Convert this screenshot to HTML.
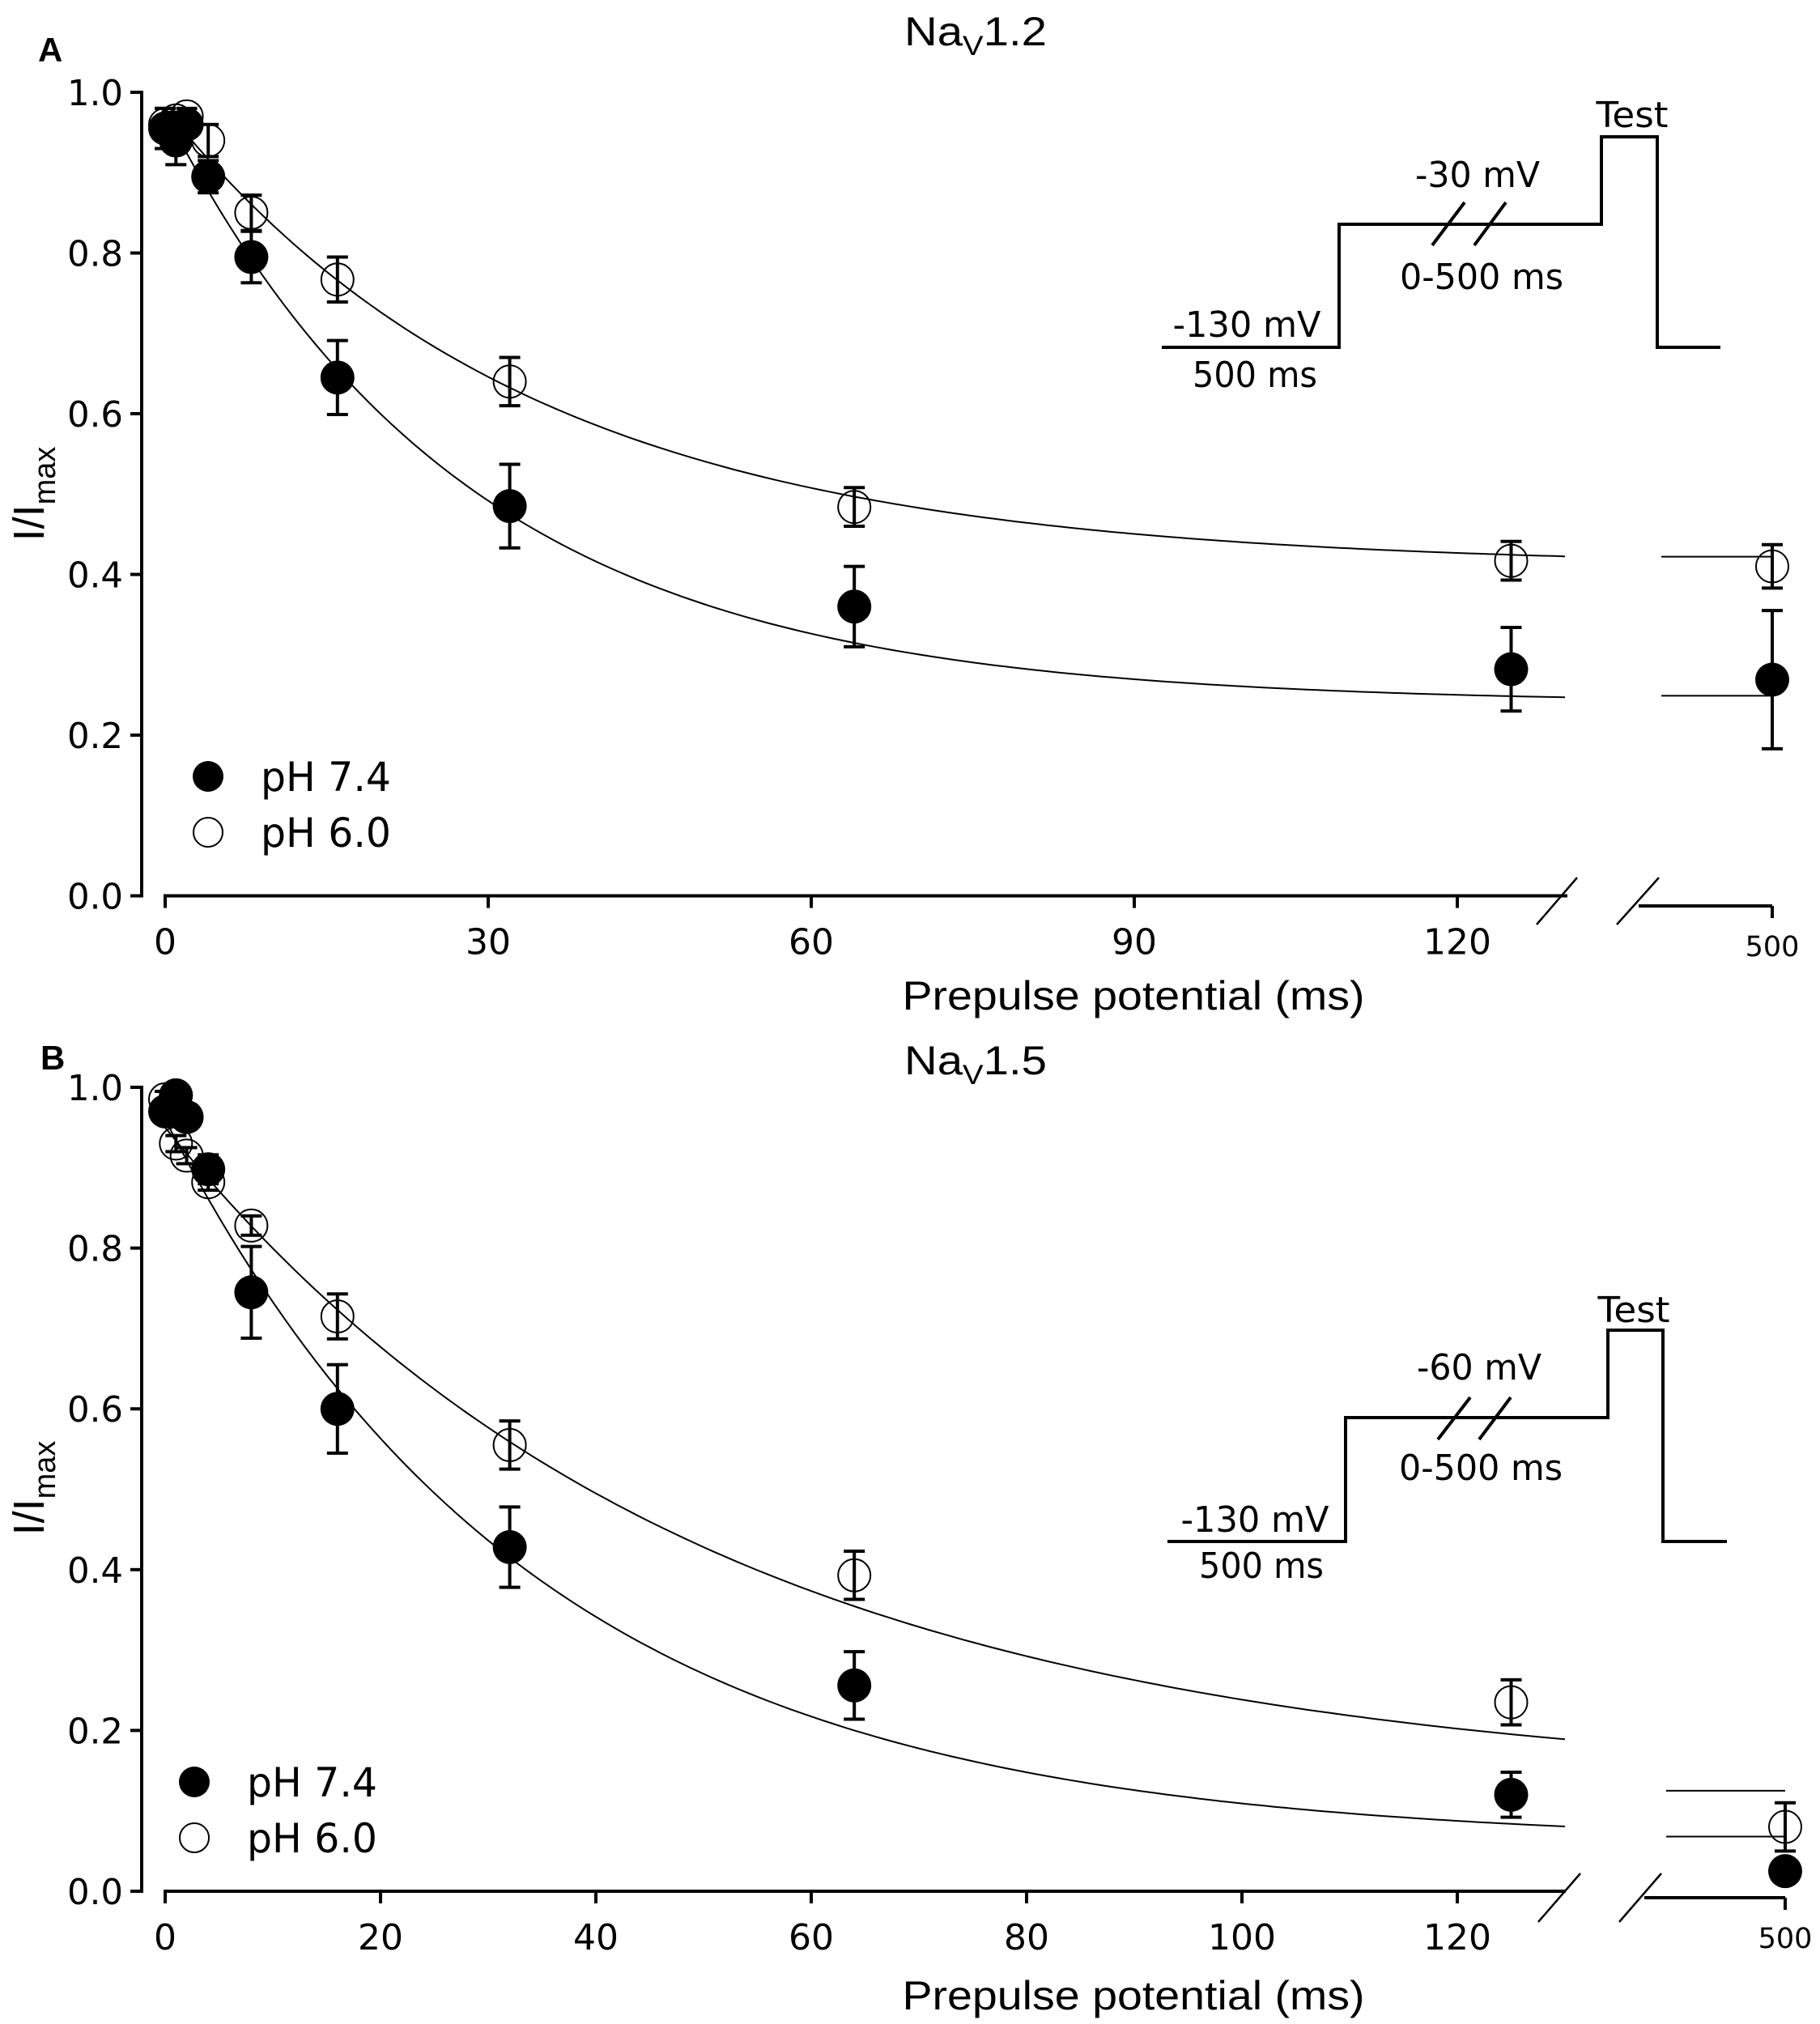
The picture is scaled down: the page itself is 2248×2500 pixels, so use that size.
<!DOCTYPE html>
<html><head><meta charset="utf-8"><style>
html,body{margin:0;padding:0;background:#fff}
svg{display:block}
text{font-family:"DejaVu Sans","Liberation Sans",sans-serif;fill:#000}
</style></head><body>
<svg id="s" xmlns="http://www.w3.org/2000/svg" width="2248" height="2500" viewBox="0 0 2248 2500"></svg>
<script>
const s=document.getElementById('s');let h='';
const X0=204,PX=13.3;
function panel(p){
  const Y0=p.y0,Y1=p.y1,yv=v=>Y0-(Y0-Y1)*v;
  h+=`<line x1="175" y1="${Y1-2}" x2="175" y2="${Y0+2}" stroke="#000" stroke-width="4"/>`;
  for(let i=0;i<=5;i++){const y=yv(i*0.2);
    h+=`<line x1="161" y1="${y}" x2="175" y2="${y}" stroke="#000" stroke-width="4"/>`;
    h+=`<text x="152" y="${y+16}" font-size="44" text-anchor="end" textLength="69" lengthAdjust="spacingAndGlyphs">${(i*0.2).toFixed(1)}</text>`;}
  h+=`<line x1="${X0-2}" y1="${Y0}" x2="${p.axEnd}" y2="${Y0}" stroke="#000" stroke-width="4"/>`;
  p.xt.forEach(t=>{const x=X0+t*PX;
    h+=`<line x1="${x}" y1="${Y0}" x2="${x}" y2="${Y0+15}" stroke="#000" stroke-width="4"/>`;
    h+=`<text x="${x}" y="${Y0+72}" font-size="44" text-anchor="middle">${t}</text>`;});
  p.sl.forEach(a=>h+=`<line x1="${a[0]}" y1="${a[1]}" x2="${a[2]}" y2="${a[3]}" stroke="#000" stroke-width="2.5"/>`);
  h+=`<line x1="${p.s2[0]}" y1="${p.s2y}" x2="${p.s2[1]}" y2="${p.s2y}" stroke="#000" stroke-width="4"/>`;
  h+=`<line x1="${p.s2[1]}" y1="${p.s2y}" x2="${p.s2[1]}" y2="${p.s2y+15}" stroke="#000" stroke-width="4"/>`;
  h+=`<text x="${p.s2[1]}" y="${p.s2y+62}" font-size="35" text-anchor="middle">500</text>`;
  h+=`<text x="1400" y="${p.xlab}" font-size="50" text-anchor="middle" textLength="571" lengthAdjust="spacingAndGlyphs" style="font-family:'Liberation Sans',sans-serif">Prepulse potential (ms)</text>`;
  h+=`<text x="1117" y="${p.tb}" font-size="50" textLength="176" lengthAdjust="spacingAndGlyphs" style="font-family:'Liberation Sans',sans-serif">Na<tspan font-size="34" dy="12">V</tspan><tspan dy="-12">${p.title}</tspan></text>`;
  h+=`<text x="${p.lx}" y="${p.lb}" font-size="42" font-weight="bold" style="font-family:'Liberation Sans',sans-serif">${p.L}</text>`;
  h+=`<text transform="translate(54,${p.yl}) rotate(-90)" font-size="54" text-anchor="middle" style="font-family:'Liberation Sans',sans-serif">I/I<tspan font-size="38" dy="14">max</tspan></text>`;
  p.fits.forEach(f=>{let d='';for(let t=0;t<=130;t+=1){d+=(t?'L':'M')+(X0+t*PX).toFixed(1)+','+yv(f[0]+(f[2]-f[0])*Math.exp(-t/f[1])).toFixed(1);}
    h+=`<path d="${d}" fill="none" stroke="#000" stroke-width="2"/>`;});
  p.flat.forEach(v=>h+=`<line x1="${p.flatX[0]}" y1="${yv(v)}" x2="${p.flatX[1]}" y2="${yv(v)}" stroke="#000" stroke-width="2"/>`);
  const draw=(data,filled)=>data.forEach(d=>{const x=d[0]===500?p.s2[1]:X0+d[0]*PX,y=yv(d[1]);
    if(d[2]){const a=yv(d[1]+d[2]),b=yv(d[1]-d[2]);
      h+=`<line x1="${x}" y1="${a}" x2="${x}" y2="${b}" stroke="#000" stroke-width="4"/><line x1="${x-13}" y1="${a}" x2="${x+13}" y2="${a}" stroke="#000" stroke-width="4"/><line x1="${x-13}" y1="${b}" x2="${x+13}" y2="${b}" stroke="#000" stroke-width="4"/>`;}
    h+= filled?`<circle cx="${x}" cy="${y}" r="21" fill="#000"/>`:`<circle cx="${x}" cy="${y}" r="20" fill="none" stroke="#000" stroke-width="2"/>`;});
  draw(p.f,true);draw(p.o,false);
  h+=`<circle cx="${p.lgx}" cy="${p.lg1}" r="19" fill="#000"/><circle cx="${p.lgx}" cy="${p.lg2}" r="18" fill="none" stroke="#000" stroke-width="2"/>`;
  h+=`<text x="${p.lgx+65}" y="${p.lg1+18}" font-size="50" textLength="161" lengthAdjust="spacingAndGlyphs">pH 7.4</text><text x="${p.lgx+65}" y="${p.lg2+18}" font-size="50" textLength="161" lengthAdjust="spacingAndGlyphs">pH 6.0</text>`;
  const I=p.ins;
  h+=`<polyline points="${I.x[0]},${I.b} ${I.x[1]},${I.b} ${I.x[1]},${I.m} ${I.x[2]},${I.m} ${I.x[2]},${I.t} ${I.x[3]},${I.t} ${I.x[3]},${I.b} ${I.x[4]},${I.b}" fill="none" stroke="#000" stroke-width="4"/>`;
  I.sl.forEach(a=>h+=`<line x1="${a[0]}" y1="${a[1]}" x2="${a[2]}" y2="${a[3]}" stroke="#000" stroke-width="4"/>`);
  I.tx.forEach(a=>h+=`<text x="${a[0]}" y="${a[1]}" font-size="44" text-anchor="middle" textLength="${a[3]}" lengthAdjust="spacingAndGlyphs">${a[2]}</text>`);
}
panel({y0:1106.5,y1:114,axEnd:1936,xt:[0,30,60,90,120],
 sl:[[1898,1142,1948,1084],[1997,1142,2049,1084]],s2:[2024,2189],s2y:1119,
 xlab:1247,tb:56,title:"1.2",L:"A",lx:47,lb:76,yl:610,
 fits:[[0.24,28,0.975],[0.41,34,0.98]],flat:[0.249,0.422],flatX:[2052,2188],
 f:[[0,0.955,0.025],[1,0.94,0.03],[2,0.96,0.01],[4,0.895,0.02],[8,0.795,0.032],[16,0.645,0.046],[32,0.485,0.052],[64,0.36,0.05],[125,0.282,0.052],[500,0.269,0.086]],
 o:[[0,0.96,0.02],[1,0.965,0.01],[2,0.97,0.01],[4,0.94,0.02],[8,0.85,0.022],[16,0.767,0.028],[32,0.64,0.03],[64,0.484,0.024],[125,0.417,0.024],[500,0.41,0.027]],
 lgx:257,lg1:959,lg2:1028,
 ins:{x:[1435,1654,1978,2047,2125],b:429,m:277,t:169,
  sl:[[1769,303,1809,250],[1821,303,1860,250]],
  tx:[[1540,416,"-130 mV",183],[1550,478,"500 ms",154],[1825,231,"-30 mV",154],[1830,357,"0-500 ms",202],[2016,157,"Test",89]]}});
panel({y0:2336,y1:1343,axEnd:1934,xt:[0,20,40,60,80,100,120],
 sl:[[1900,2374,1952,2314],[2000,2374,2052,2314]],s2:[2031,2205],s2y:2344,
 xlab:2482,tb:1327,title:"1.5",L:"B",lx:50,lb:1321,yl:1838,
 fits:[[0.06,34.4,0.96],[0.13,49.4,0.95]],flat:[0.125,0.068],flatX:[2058,2205],
 f:[[0,0.97,0],[1,0.99,0],[2,0.963,0],[4,0.898,0.018],[8,0.745,0.057],[16,0.6,0.055],[32,0.428,0.05],[64,0.256,0.042],[125,0.12,0.028],[500,0.025,0]],
 o:[[0,0.985,0.01],[1,0.93,0.01],[2,0.915,0.01],[4,0.882,0.01],[8,0.828,0.012],[16,0.715,0.028],[32,0.555,0.03],[64,0.393,0.03],[125,0.235,0.028],[500,0.08,0.03]],
 lgx:240,lg1:2201,lg2:2270,
 ins:{x:[1442,1662,1986,2054,2133],b:1904,m:1751,t:1643,
  sl:[[1776,1778,1816,1726],[1827,1778,1866,1726]],
  tx:[[1550,1892,"-130 mV",183],[1558,1949,"500 ms",154],[1827,1704,"-60 mV",154],[1829,1828,"0-500 ms",202],[2018,1633,"Test",89]]}});
s.innerHTML=h;
</script>
</body></html>
